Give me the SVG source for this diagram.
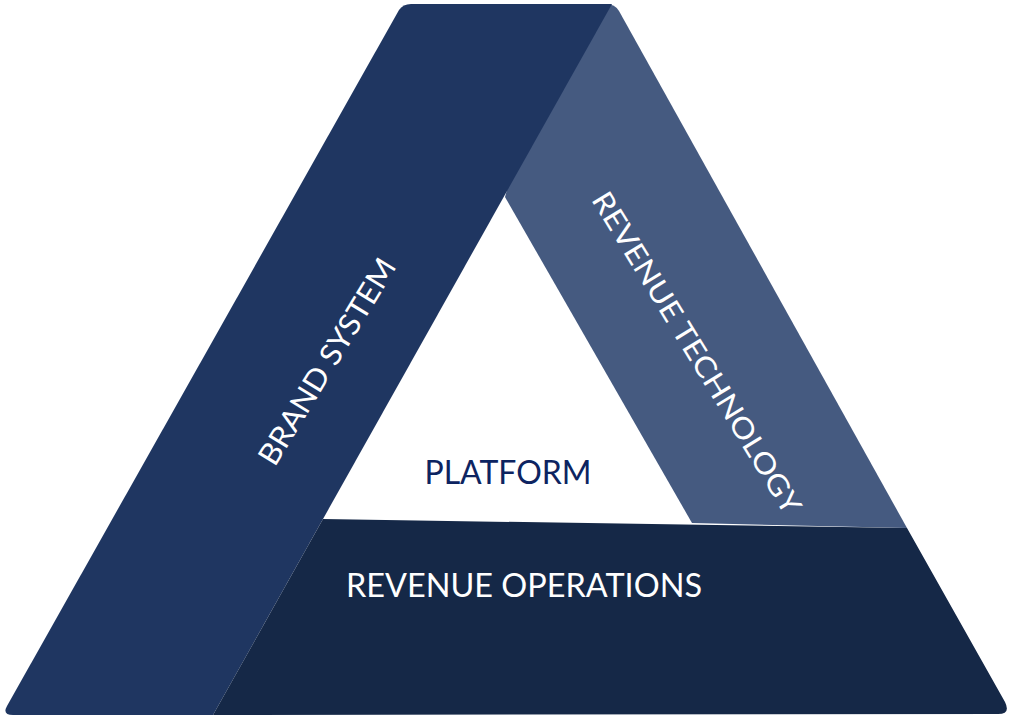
<svg xmlns="http://www.w3.org/2000/svg" width="1012" height="719" viewBox="0 0 1012 719">
<style>
.lbl{font-family:"Lato","Liberation Sans",sans-serif;font-weight:400;fill:#ffffff;}
.plat{font-family:"Lato","Liberation Sans",sans-serif;font-weight:400;fill:#0d2461;}
</style>
<rect width="1012" height="719" fill="#ffffff"/>
<g id="revenue-technology">
<path d="M560,4 L606,4 Q615,4 619,11 L907,528 L692,523 L505,197 Z" fill="#455a80"/>
<text class="lbl" font-size="29" text-anchor="middle" transform="translate(688,358) rotate(58.5)" textLength="372" lengthAdjust="spacingAndGlyphs">REVENUE TECHNOLOGY</text>
</g>
<g id="brand-system">
<path d="M213,715 L13,715 Q2,715 7,706 L399,10 Q403,4 411,4 L612,4 Z" fill="#1f3661"/>
<text class="lbl" font-size="30" text-anchor="middle" transform="translate(336,367) rotate(-58.7)" textLength="236" lengthAdjust="spacingAndGlyphs">BRAND SYSTEM</text>
</g>
<g id="revenue-operations">
<path d="M323,519 L907,528 L1005,702 Q1011,714 998,714 L213,715 Z" fill="#152847"/>
<text class="lbl" font-size="33" x="524" y="597" text-anchor="middle" textLength="356" lengthAdjust="spacingAndGlyphs">REVENUE OPERATIONS</text>
</g>
<g id="platform">
<text class="plat" font-size="33" x="508" y="484" text-anchor="middle" textLength="167" lengthAdjust="spacingAndGlyphs">PLATFORM</text>
</g>
<g id="connectors"></g>
</svg>
